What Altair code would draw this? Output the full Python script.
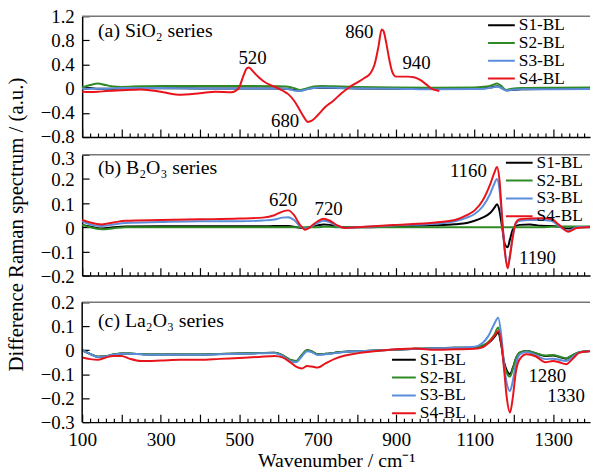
import altair as alt
import pandas as pd

FONT = "Liberation Serif"
series = ["S1-BL", "S2-BL", "S3-BL", "S4-BL"]
colors = ["#000000", "#2f8a26", "#5b8ddb", "#e8141c"]

x_labels = [100, 300, 500, 700, 900, 1100, 1300]
x_ticks = list(range(100, 1394, 20))

# ---------------- panel (a) SiO2 series ----------------
wn_a = [100, 120, 140, 160, 180, 200, 250, 300, 400, 500, 600, 620, 640, 655, 670, 690, 710, 740, 800, 900,
        1000, 1100, 1130, 1145, 1157, 1167, 1180, 1195, 1220, 1300, 1394]
s1_a = [0.01, 0.01, 0.0, 0.0, 0.0, 0.005, 0.008, 0.008, 0.005, 0.005, 0.005, 0.0, -0.02, -0.03, -0.01, 0.01,
        0.015, 0.01, 0.005, 0.0, -0.005, 0.0, 0.01, 0.025, 0.04, 0.02, -0.025, -0.02, -0.01, -0.005, 0.0]
s2_a = [0.02, 0.06, 0.085, 0.06, 0.035, 0.03, 0.04, 0.045, 0.045, 0.045, 0.04, 0.035, 0.01, -0.02, 0.0, 0.035,
        0.045, 0.04, 0.03, 0.02, 0.015, 0.02, 0.035, 0.06, 0.085, 0.05, -0.02, 0.0, 0.01, 0.015, 0.02]
s3_a = [0.0, 0.0, 0.0, 0.0, 0.005, 0.01, 0.01, 0.01, 0.005, 0.005, 0.005, 0.0, -0.03, -0.04, -0.015, 0.01,
        0.02, 0.015, 0.005, 0.0, -0.01, -0.005, 0.005, 0.02, 0.035, 0.015, -0.03, -0.02, -0.01, -0.01, -0.005]
wn_a4 = [100, 120, 140, 160, 200, 250, 300, 345, 400, 440, 480, 490, 500, 510, 520, 525, 535, 545, 555, 565,
         580, 595, 610, 625, 640, 655, 665, 675, 685, 700, 720, 740, 760, 780, 800, 820, 835, 845, 855, 863,
         868, 875, 882, 890, 900, 915, 930, 945, 960, 975, 990, 1005, 1010]
s4_a = [-0.05, -0.055, -0.05, -0.04, -0.025, -0.012, -0.05, -0.1, -0.075, -0.05, -0.06, -0.04, 0.02, 0.2,
        0.34, 0.35, 0.29, 0.22, 0.16, 0.11, 0.06, 0.02, -0.03, -0.09, -0.2, -0.36, -0.47, -0.55, -0.53, -0.44,
        -0.3, -0.2, -0.08, 0.02, 0.1, 0.18, 0.26, 0.4, 0.7, 0.98, 0.95, 0.75, 0.5, 0.28, 0.2, 0.2, 0.2, 0.19,
        0.15, 0.08, 0.0, -0.03, -0.04]
y_ticks_a = [-0.8, -0.4, 0, 0.4, 0.8, 1.2]
notes_a = ["520", "680", "860", "940"]
notes_a_x = [534, 617, 806, 952]
notes_a_y = [0.5, -0.535, 0.935, 0.425]

# ---------------- panel (b) B2O3 series ----------------
wn_b = [100, 120, 150, 180, 210, 300, 400, 500, 560, 590, 610, 625, 640, 655, 668, 680, 700, 715, 730, 750,
        770, 800, 900, 1000, 1050, 1080, 1100, 1120, 1140, 1150, 1157, 1163, 1170, 1177, 1184, 1190, 1197,
        1205, 1215, 1240, 1270, 1295, 1315, 1338, 1360, 1394]
s1_b = [0.01, 0.003, -0.005, 0.0, 0.003, 0.004, 0.004, 0.004, 0.004, 0.005, 0.005, 0.005, 0.002, -0.002,
        -0.003, 0.0, 0.008, 0.012, 0.01, 0.003, 0.0, 0.0, 0.003, 0.008, 0.013, 0.018, 0.027, 0.04, 0.06, 0.08,
        0.095, 0.07, 0.0, -0.07, -0.083, -0.05, -0.01, 0.005, 0.01, 0.012, 0.006, 0.005, 0.002, -0.005, 0.0, 0.0]
s2_b = [0.01, 0.0, -0.008, -0.004, 0.0, 0.0, 0.0, 0.0, 0.0, 0.0, 0.0, 0.0, 0.0, 0.0, 0.0, 0.0, 0.0, 0.002,
        0.002, 0.0, 0.0, 0.0, 0.0, 0.0, 0.0, 0.0, 0.0, 0.0, 0.0, 0.0, 0.0, 0.0, 0.0, 0.0, 0.0, 0.0, 0.0, 0.0,
        0.0, 0.0, 0.0, 0.002, 0.003, 0.003, 0.003, 0.003]
s3_b = [0.025, 0.012, 0.005, 0.012, 0.018, 0.022, 0.025, 0.025, 0.028, 0.032, 0.04, 0.042, 0.03, 0.005,
        -0.005, 0.0, 0.018, 0.027, 0.022, 0.005, -0.003, 0.0, 0.008, 0.015, 0.025, 0.04, 0.055, 0.085, 0.14,
        0.18, 0.2, 0.16, 0.03, -0.1, -0.16, -0.115, -0.04, 0.015, 0.027, 0.03, 0.03, 0.027, 0.005, -0.015, 0.0,
        0.002]
s4_b = [0.03, 0.02, 0.012, 0.02, 0.027, 0.03, 0.033, 0.036, 0.04, 0.05, 0.065, 0.07, 0.05, 0.01, -0.01, 0.0,
        0.025, 0.035, 0.028, 0.008, -0.003, 0.0, 0.01, 0.02, 0.03, 0.05, 0.07, 0.11, 0.18, 0.225, 0.25, 0.2,
        0.04, -0.1, -0.17, -0.12, -0.04, 0.02, 0.033, 0.036, 0.037, 0.034, 0.01, -0.018, -0.003, 0.001]
y_ticks_b = [-0.2, -0.1, 0, 0.1, 0.2, 0.3]
notes_b = ["620", "720", "1160", "1190"]
notes_b_x = [612, 728, 1084, 1260]
notes_b_y = [0.112, 0.077, 0.232, -0.128]

# ---------------- panel (c) La2O3 series ----------------
wn_c = [100, 120, 140, 160, 180, 200, 220, 250, 300, 350, 400, 450, 500, 550, 590, 610, 630, 645, 660, 673,
        685, 700, 720, 745, 770, 800, 850, 900, 950, 1000, 1050, 1100, 1120, 1135, 1150, 1160, 1168, 1175,
        1182, 1190, 1197, 1205, 1215, 1232, 1255, 1280, 1300, 1315, 1333, 1350, 1367, 1394]
s1_c = [0.0, -0.015, -0.027, -0.025, -0.018, -0.014, -0.014, -0.016, -0.018, -0.018, -0.018, -0.016, -0.014,
        -0.012, -0.01, -0.02, -0.04, -0.045, -0.02, 0.0, -0.005, -0.017, -0.015, -0.01, -0.006, -0.004,
        -0.001, 0.002, 0.006, 0.008, 0.01, 0.012, 0.018, 0.03, 0.055, 0.074, 0.02, -0.05, -0.085, -0.1,
        -0.075, -0.035, -0.01, -0.003, -0.012, -0.024, -0.022, -0.028, -0.035, -0.02, -0.008, -0.003]
s2_c = [0.0, -0.015, -0.027, -0.025, -0.018, -0.014, -0.014, -0.016, -0.018, -0.018, -0.018, -0.016, -0.014,
        -0.012, -0.01, -0.02, -0.04, -0.045, -0.02, 0.0, -0.005, -0.017, -0.015, -0.01, -0.006, -0.004,
        -0.001, 0.002, 0.006, 0.008, 0.01, 0.012, 0.02, 0.035, 0.065, 0.095, 0.03, -0.06, -0.095, -0.11,
        -0.08, -0.035, -0.01, -0.003, -0.012, -0.022, -0.02, -0.026, -0.033, -0.02, -0.008, -0.003]
s3_c = [0.0, -0.015, -0.028, -0.026, -0.019, -0.015, -0.015, -0.017, -0.019, -0.019, -0.019, -0.017, -0.015,
        -0.013, -0.012, -0.024, -0.045, -0.05, -0.025, -0.004, -0.008, -0.02, -0.017, -0.012, -0.007, -0.004,
        -0.001, 0.002, 0.006, 0.008, 0.01, 0.015, 0.03, 0.06, 0.11, 0.136, 0.06, -0.06, -0.14, -0.17, -0.13,
        -0.06, -0.017, -0.007, -0.02, -0.037, -0.035, -0.04, -0.045, -0.028, -0.008, -0.003]
s4_c = [-0.03, -0.037, -0.04, -0.03, -0.024, -0.024, -0.035, -0.045, -0.043, -0.04, -0.04, -0.036, -0.032,
        -0.028, -0.024, -0.03, -0.05, -0.068, -0.076, -0.066, -0.068, -0.072, -0.055, -0.035, -0.022, -0.013,
        -0.003, 0.004, 0.007, 0.002, 0.004, 0.006, 0.012, 0.03, 0.06, 0.08, 0.03, -0.08, -0.2, -0.26, -0.2,
        -0.09, -0.037, -0.017, -0.025, -0.05, -0.045, -0.05, -0.058, -0.035, -0.01, -0.004]
y_ticks_c = [-0.3, -0.2, -0.1, 0, 0.1, 0.2]
notes_c = ["1280", "1330"]
notes_c_x = [1285, 1333]
notes_c_y = [-0.109, -0.191]

W = 513
H = 122
GAP_C = 9  # extra empty strip above panel (c) so that its gap is larger than the (a)-(b) gap


def long_df(parts):
    rows = []
    for name, xs, ys in parts:
        for x, y in zip(xs, ys):
            rows.append({"wn": x, "val": y, "series": name})
    return pd.DataFrame(rows)


def panel(df, ydomain, yticks, title, title_y, notes, nx, ny, leg_x, leg_y, leg_len,
          bottom=False, ytitle=False, strip=0, top_label_shift=0):
    h = H - 1 + strip if strip else H
    plot_h = h - strip
    top_val = ydomain[1] + (ydomain[1] - ydomain[0]) * strip / plot_h
    xscale = alt.Scale(domain=[100, 1394], nice=False, zero=False)
    yscale = alt.Scale(domain=[ydomain[0], top_val], nice=False, zero=False)
    xkw = dict(orient="bottom", values=x_labels, ticks=False, tickSize=0, labels=bottom, grid=False,
               domainColor="black", domainWidth=1.5, labelFont=FONT, labelFontSize=19.5, labelColor="black",
               labelPadding=9, format="d", labelFlush=False)
    if bottom:
        xkw.update(title="Wavenumber / cm\u207b\u00b9", titleFont=FONT, titleFontSize=20,
                   titleFontWeight="normal", titleColor="black", titleY=39, titleBaseline="middle")
    else:
        xkw.update(title=None)
    ykw = dict(orient="left", values=yticks, ticks=False, tickSize=0, grid=False, domain=(strip == 0),
               domainColor="black", domainWidth=1.5, labelFont=FONT, labelFontSize=19, labelColor="black",
               labelPadding=8, format=".1~f", labelFlush=False)
    if top_label_shift:
        ykw.update(labelOffset={"condition": {"test": "datum.value > %g" % (yticks[-1] - 1e-6),
                                              "value": top_label_shift}, "value": 1})
    if ytitle:
        ykw.update(title="Difference Raman spectrum / (a.u.)", titleFont=FONT, titleFontSize=21,
                   titleFontWeight="normal", titleColor="black", titleAngle=270, titleX=-66, titleY=70,
                   titleAlign="center", titleBaseline="middle")
    else:
        ykw.update(title=None)

    lines = alt.Chart(df).mark_line(strokeWidth=2, interpolate="monotone").encode(
        x=alt.X("wn:Q", scale=xscale, axis=alt.Axis(**xkw)),
        y=alt.Y("val:Q", scale=yscale, axis=alt.Axis(**ykw)),
        color=alt.Color("series:N", scale=alt.Scale(domain=series, range=colors),
                        legend=alt.Legend(orient="none", legendX=leg_x, legendY=leg_y + strip, title=None,
                                          symbolType="stroke", symbolStrokeWidth=2,
                                          symbolSize=leg_len * leg_len, labelFont=FONT, labelFontSize=17.5,
                                          labelColor="black", clipHeight=16, rowPadding=0, padding=0,
                                          labelOffset=3)),
    )
    ndf = pd.DataFrame({"wn": nx, "val": ny, "label": notes})
    tick_x = alt.Axis(orient="top", offset=-h, values=x_ticks, labels=False, domain=False, grid=False,
                      tickColor="black", tickWidth=1.2, title=None,
                      tickSize={"condition": {"test": "datum.value % 100 === 0", "value": 8}, "value": 4})
    tick_y = alt.Axis(orient="right", offset=-W, values=yticks, labels=False, domain=False, grid=False,
                      tickColor="black", tickWidth=1.2, tickSize=7, title=None)
    text = alt.Chart(ndf).mark_text(font=FONT, fontSize=19, color="black").encode(
        x=alt.X("wn:Q", scale=xscale, axis=tick_x),
        y=alt.Y("val:Q", scale=yscale, axis=tick_y),
        text="label:N",
    )
    ttl = alt.Chart(pd.DataFrame({"t": [title]})).mark_text(
        align="left", baseline="middle", font=FONT, fontSize=20, color="black"
    ).encode(x=alt.value(16), y=alt.value(title_y + strip), text="t:N")
    border = alt.Chart(pd.DataFrame({"a": [0]})).mark_rule(color="#777777", strokeWidth=1.5).encode(
        x=alt.value(0), x2=alt.value(W), y=alt.value(strip))
    layers = [lines, text, ttl, border]
    if strip:
        left = alt.Chart(pd.DataFrame({"a": [0]})).mark_rule(color="black", strokeWidth=1.5).encode(
            x=alt.value(0), y=alt.value(strip), y2=alt.value(h))
        layers.append(left)
    return alt.layer(*layers).resolve_axis(x="independent", y="independent").properties(width=W, height=h)


df_a = long_df([("S1-BL", wn_a, s1_a), ("S2-BL", wn_a, s2_a), ("S3-BL", wn_a, s3_a), ("S4-BL", wn_a4, s4_a)])
df_b = long_df([("S1-BL", wn_b, s1_b), ("S2-BL", wn_b, s2_b), ("S3-BL", wn_b, s3_b), ("S4-BL", wn_b, s4_b)])
df_c = long_df([("S1-BL", wn_c, s1_c), ("S2-BL", wn_c, s2_c), ("S3-BL", wn_c, s3_c), ("S4-BL", wn_c, s4_c)])

pa = panel(df_a, [-0.8, 1.2], y_ticks_a, "(a) SiO\u2082 series", 15, notes_a, notes_a_x, notes_a_y,
           409, 1, 27)
pb = panel(df_b, [-0.2, 0.3], y_ticks_b, "(b) B\u2082O\u2083 series", 13, notes_b, notes_b_x, notes_b_y,
           427, 0, 27, ytitle=True, top_label_shift=4)
pc = panel(df_c, [-0.3, 0.2], y_ticks_c, "(c) La\u2082O\u2083 series", 19, notes_c, notes_c_x, notes_c_y,
           312, 50, 24, bottom=True, strip=GAP_C)

chart = alt.vconcat(pa, pb, pc, spacing=18, bounds="flush").resolve_legend(color="independent").configure(
    padding={"left": 5, "top": 5, "right": 0, "bottom": 0}
).configure_view(stroke=None)

chart.save("out.html", embed_options={"renderer": "svg", "actions": False})
